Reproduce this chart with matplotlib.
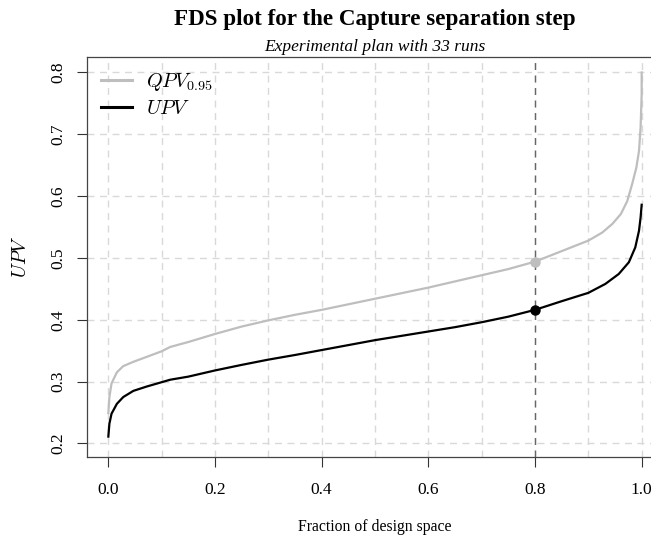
import matplotlib
matplotlib.use("Agg")
import matplotlib.pyplot as plt

plt.rcParams['mathtext.fontset'] = 'cm'
plt.rcParams['font.family'] = 'Liberation Serif'

# fraction of design space vs quantile of prediction variance
frac_qpv = [0, 0.002, 0.006, 0.016, 0.028, 0.047, 0.072, 0.1, 0.116, 0.15, 0.2, 0.25,
            0.3, 0.35, 0.4, 0.45, 0.5, 0.55, 0.6, 0.65, 0.7, 0.75, 0.8, 0.85, 0.9,
            0.926, 0.945, 0.961, 0.973, 0.982, 0.99, 0.995, 0.998, 1.0, 1.0]
qpv = [0.249, 0.275, 0.297, 0.315, 0.325, 0.332, 0.340, 0.349, 0.356, 0.364, 0.377, 0.389,
       0.399, 0.408, 0.416, 0.425, 0.434, 0.443, 0.452, 0.462, 0.472, 0.482, 0.494, 0.511, 0.528,
       0.541, 0.555, 0.571, 0.592, 0.619, 0.646, 0.673, 0.711, 0.765, 0.800]

frac_upv = [0, 0.002, 0.006, 0.016, 0.028, 0.047, 0.072, 0.1, 0.116, 0.15, 0.2, 0.25,
            0.3, 0.35, 0.4, 0.45, 0.5, 0.55, 0.6, 0.65, 0.7, 0.75, 0.8, 0.85, 0.9,
            0.932, 0.957, 0.976, 0.988, 0.995, 0.998, 1.0]
upv = [0.211, 0.232, 0.248, 0.264, 0.275, 0.285, 0.292, 0.299, 0.303, 0.308, 0.318, 0.327,
       0.3355, 0.343, 0.351, 0.359, 0.367, 0.374, 0.381, 0.388, 0.396, 0.405, 0.416, 0.430, 0.4435,
       0.458, 0.474, 0.493, 0.517, 0.544, 0.5655, 0.586]

mark_frac = 0.8
mark_qpv = 0.494
mark_upv = 0.416

fig = plt.figure(figsize=(6.51, 5.38), dpi=100)
ax = fig.add_axes([87 / 651, 81 / 538, (663 - 87) / 651, (457 - 57) / 538])

for gx in [i / 10 for i in range(11)]:
    ax.axvline(gx, color='#d9d9d9', lw=1, ls=(0, (5, 4)), zorder=0)
for gy in [0.2, 0.3, 0.4, 0.5, 0.6, 0.7, 0.8]:
    ax.axhline(gy, color='#d9d9d9', lw=1, ls=(0, (5, 4)), zorder=0)
ax.axvline(mark_frac, color='#666666', lw=1, ls=(0, (5, 4)), zorder=1)

ax.plot(frac_qpv, qpv, color='#bebebe', lw=1.6, label=r'$QPV_{0.95}$')
ax.plot(frac_upv, upv, color='black', lw=1.6, label=r'$UPV$')
ax.plot([mark_frac], [mark_qpv], 'o', color='#bebebe', ms=6.5)
ax.plot([mark_frac], [mark_upv], 'o', color='black', ms=6.5)

ax.set_xlim(-0.04, 1.04)
ax.set_ylim(0.178, 0.825)
ax.set_xticks([0, 0.2, 0.4, 0.6, 0.8, 1.0])
ax.set_yticks([0.2, 0.3, 0.4, 0.5, 0.6, 0.7, 0.8])
ax.set_xticklabels(['%.1f' % v for v in ax.get_xticks()])
ax.set_yticklabels(['%.1f' % v for v in ax.get_yticks()], rotation=90, va='center')
ax.tick_params(axis='both', direction='out', length=7, width=0.8, colors='#333333',
               labelcolor='black', labelsize=12.5)
ax.tick_params(axis='x', pad=11)
ax.tick_params(axis='y', pad=8)
for s in ax.spines.values():
    s.set_color('#444444')
    s.set_linewidth(0.9)

ax.set_xlabel('Fraction of design space', fontsize=11.3, va='center')
ax.xaxis.set_label_coords(0.5, -(527 - 457) / 400)
ax.set_ylabel(r'$UPV$', fontsize=14, va='center')
ax.yaxis.set_label_coords(-(87 - 21) / 576, 0.5)

leg = ax.legend(loc='upper left', frameon=False, fontsize=14.5, handlelength=1.55,
                borderaxespad=0.3, handletextpad=0.7, labelspacing=0.35)
for line in leg.get_lines():
    line.set_linewidth(2.2)

fig.text(375 / 651, 1 - 19 / 538, 'FDS plot for the Capture separation step',
         ha='center', va='center', fontsize=16.6, fontweight='bold')
fig.text(375 / 651, 1 - 47 / 538, 'Experimental plan with 33 runs',
         ha='center', va='center', fontsize=12.5, style='italic')

fig.savefig('out.png', dpi=100)
